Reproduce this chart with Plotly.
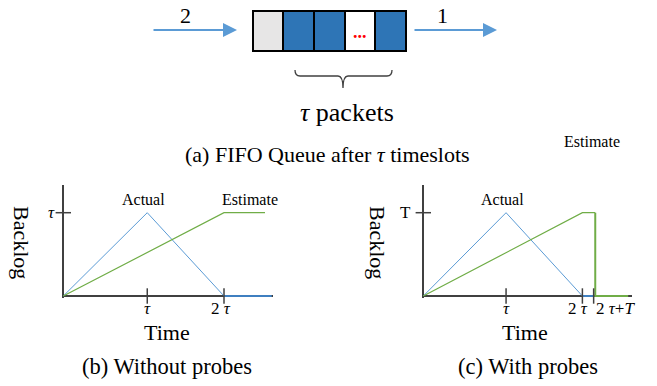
import plotly.graph_objects as go

W, H = 657, 386
FONT = "Liberation Serif"

# ---------------- data ----------------
# (a) FIFO queue
queue_cells = ["empty", "pkt", "pkt", "gap", "pkt"]
cell_colors = {"empty": "#E7E6E6", "pkt": "#2E75B6", "gap": "#FFFFFF"}
arrival_label = "2"
departure_label = "1"

# (b) Without probes  (time axis, backlog axis in units of tau)
tick_b_vals = [1.045, 2.0]
tick_b_text = ["<i>τ</i>", "2 <i>τ</i>"]
ytick_b_text = ["<i>τ</i>"]
actual_b_t = [0, 1.045, 2.0]
actual_b_v = [0, 1, 0]
actual_b_tail_t = [2.0, 2.594]
actual_b_tail_v = [0, 0]
est_b_t = [0, 2.0, 2.51]
est_b_v = [0, 1, 1]

# (c) With probes
tick_c_vals = [1.03, 1.98, 2.12]
tick_c_text = ["<i>τ</i>", "2 <i>τ</i>", "2 <i>τ</i>+<i>T</i>"]
ytick_c_text = ["T"]
actual_c_t = [0, 1.03, 1.98]
actual_c_v = [0, 1, 0]
actual_c_tail_t = [1.98, 2.12]
actual_c_tail_v = [0, 0]
est_c_t = [0, 1.98, 2.14]
est_c_v = [0, 1, 1]
est_c_drop_t = [2.14, 2.14, 2.55]
est_c_drop_v = [1, 0, 0]

ytick_vals = [1]

# ---------------- styles ----------------
BLUE_L = "#5B9BD5"
BLUE_D = "#3F7FC0"
GREEN = "#70AD47"
AXIS = "#404040"


def px(xp, yp):
    return xp / W, 1 - yp / H


fig = go.Figure()

# ---- queue (axes x3/y3 cover whole canvas) ----
Q_X0, Q_CELL, Q_Y0, Q_H = 252.7, 30.6, 51.0, 40.0
fig.add_trace(go.Bar(
    x=[i + 0.5 for i in range(len(queue_cells))],
    y=[1] * len(queue_cells), width=1,
    marker=dict(color=[cell_colors[c] for c in queue_cells],
                line=dict(color="black", width=2)),
    xaxis="x3", yaxis="y3", showlegend=False, hoverinfo="skip"))

# ---- panel helpers ----
PPU_X, PPU_Y = 80.35, 83.3
XMIN, YMIN, YMAX = -0.02, -0.02, 1.3325


def panel(xa, ya, t0px, xmax):
    dom_x = [(t0px + XMIN * PPU_X) / W, (t0px + xmax * PPU_X) / W]
    y0px = 296.0
    dom_y = [1 - (y0px - YMIN * PPU_Y) / H, 1 - (y0px - YMAX * PPU_Y) / H]
    fig.layout[xa] = dict(domain=dom_x, range=[XMIN, xmax], anchor=ya.replace("axis", ""),
                          showgrid=False, showline=False, zeroline=True,
                          zerolinecolor=AXIS, zerolinewidth=1.5,
                          showticklabels=False, ticks="")
    fig.layout[ya] = dict(domain=dom_y, range=[YMIN, YMAX], anchor=xa.replace("axis", ""),
                          showgrid=False, showline=False, zeroline=True,
                          zerolinecolor=AXIS, zerolinewidth=1.5,
                          showticklabels=False, ticks="")


panel("xaxis", "yaxis", 63.3, 2.61)
panel("xaxis2", "yaxis2", 423.3, 2.6)


def line(x, y, color, width, xa, ya):
    fig.add_trace(go.Scatter(x=x, y=y, mode="lines", line=dict(color=color, width=width),
                             xaxis=xa, yaxis=ya, showlegend=False, hoverinfo="skip"))


def ticks(xs, xlabels, xshifts, ylabels, yshift_x, xa, ya):
    fig.add_trace(go.Scatter(x=xs, y=[0] * len(xs), mode="markers", cliponaxis=False,
                             marker=dict(symbol="line-ns", size=11, line=dict(color=AXIS, width=1.5)),
                             xaxis=xa, yaxis=ya, showlegend=False, hoverinfo="skip"))
    fig.add_trace(go.Scatter(x=[0.0], y=ytick_vals, mode="markers", cliponaxis=False,
                             marker=dict(symbol="line-ew", size=11, line=dict(color=AXIS, width=1.5)),
                             xaxis=xa, yaxis=ya, showlegend=False, hoverinfo="skip"))
    for v, t, s in zip(xs, xlabels, xshifts):
        fig.add_annotation(x=v, y=0, xref=xa, yref=ya, text=t, showarrow=False,
                           xanchor="center", yanchor="middle", xshift=s, yshift=-12,
                           font=dict(family=FONT, size=17, color="black"))
    for v, t in zip(ytick_vals, ylabels):
        fig.add_annotation(x=0, y=v, xref=xa, yref=ya, text=t, showarrow=False,
                           xanchor="right", yanchor="middle", xshift=yshift_x,
                           font=dict(family=FONT, size=17, color="black"))


# (b)
line(actual_b_t, actual_b_v, BLUE_L, 1, "x", "y")
line(est_b_t, est_b_v, GREEN, 1.2, "x", "y")
line(actual_b_tail_t, actual_b_tail_v, BLUE_D, 2, "x", "y")
ticks(tick_b_vals, tick_b_text, [0, -3], ytick_b_text, -6, "x", "y")
# (c)
line(actual_c_t, actual_c_v, BLUE_L, 1, "x2", "y2")
line(est_c_t, est_c_v, GREEN, 1.2, "x2", "y2")
line(est_c_drop_t, est_c_drop_v, GREEN, 2, "x2", "y2")
line(actual_c_tail_t, actual_c_tail_v, BLUE_D, 2, "x2", "y2")
ticks(tick_c_vals, tick_c_text, [0, -4, 22], ytick_c_text, -10, "x2", "y2")

fig.update_layout(
    xaxis3=dict(domain=[0, 1], range=[(0 - Q_X0) / Q_CELL, (W - Q_X0) / Q_CELL],
                anchor="y3", visible=False),
    yaxis3=dict(domain=[0, 1], range=[(Q_Y0 - H) / Q_H, Q_Y0 / Q_H],
                anchor="x3", visible=False),
)

# arrows
for tail_px, head_px in [(152, 237), (413, 497)]:
    fig.add_annotation(x=(head_px - Q_X0) / Q_CELL, y=(Q_Y0 - 30) / Q_H,
                       ax=(tail_px - Q_X0) / Q_CELL, ay=(Q_Y0 - 30) / Q_H,
                       xref="x3", yref="y3", axref="x3", ayref="y3", text="",
                       showarrow=True, arrowhead=2, arrowsize=1.4, arrowwidth=2,
                       arrowcolor=BLUE_L)


# brace
def bx(p):
    return (p - Q_X0) / Q_CELL


def by(p):
    return (Q_Y0 - p) / Q_H


path = (f"M {bx(295)},{by(70)} Q {bx(295)},{by(76)} {bx(300)},{by(76)} "
        f"L {bx(338)},{by(76)} Q {bx(343)},{by(76)} {bx(343)},{by(88)} "
        f"Q {bx(343)},{by(76)} {bx(348)},{by(76)} "
        f"L {bx(387)},{by(76)} Q {bx(392)},{by(76)} {bx(392)},{by(70)}")
fig.add_shape(type="path", path=path, xref="x3", yref="y3",
              line=dict(color=AXIS, width=1.3))


def text(t, xp, yp, size, color="black", angle=0, xanchor="center"):
    x, y = px(xp, yp)
    fig.add_annotation(x=x, y=y, xref="paper", yref="paper", text=t, showarrow=False,
                       font=dict(family=FONT, size=size, color=color), textangle=angle,
                       xanchor=xanchor, yanchor="middle")


text(arrival_label, 185, 15, 22)
text(departure_label, 442, 15, 22)
text("<b>...</b>", 359.5, 32, 18, color="#FF0000")
text("<i>τ</i> packets", 347, 113, 26)
text("(a) FIFO Queue after <i>τ</i> timeslots", 327.4, 154, 22)
text("Estimate", 592, 141, 16)

text("Actual", 143.7, 200, 16)
text("Estimate", 250, 200, 16)
text("Backlog", 22, 242, 22, angle=90)
text("Time", 167, 332, 22)
text("(b) Without probes", 167, 366, 22.5)

text("Actual", 502.7, 200, 16)
text("Backlog", 378, 242, 22, angle=90)
text("Time", 525, 332, 22)
text("(c) With probes", 527.5, 366, 22.5)

fig.update_layout(width=W, height=H, margin=dict(l=0, r=0, t=0, b=0),
                  paper_bgcolor="white", plot_bgcolor="rgba(0,0,0,0)",
                  showlegend=False, bargap=0)

fig.write_html("out.html")
